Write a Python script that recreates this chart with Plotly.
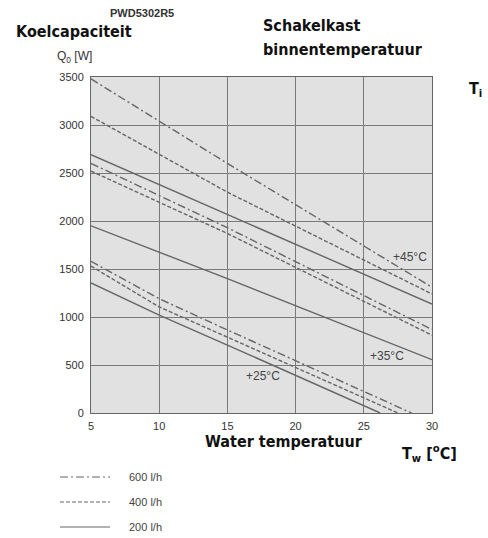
import plotly.graph_objects as go

# Water temperature (x) and cooling capacity (W) per cabinet temperature / flow rate
x_45 = [5, 15, 30]
q45_600 = [3480, 2600, 1310]
q45_400 = [3090, 2300, 1240]
q45_200 = [2690, 2070, 1135]

x_35 = [5, 15, 30]
q35_600 = [2600, 1930, 870]
q35_400 = [2520, 1870, 810]
q35_200 = [1950, 1400, 555]

x25_600 = [5, 10, 15, 28.5]
q25_600 = [1580, 1190, 865, 0]
x25_400 = [5, 10, 15, 27.5]
q25_400 = [1530, 1105, 790, 0]
x25_200 = [5, 10, 15, 26.2]
q25_200 = [1355, 1020, 708, 0]

flow_labels = ["600 l/h", "400 l/h", "200 l/h"]
temp_labels = ["+45°C", "+35°C", "+25°C"]
temp_label_pos = [(28.4, 1625), (26.7, 594), (17.6, 385)]

x_ticks = [5, 10, 15, 20, 25, 30]
y_ticks = [0, 500, 1000, 1500, 2000, 2500, 3000, 3500]

LINE = "#666666"
dash_styles = {"600 l/h": "8px,3px,2px,3px", "400 l/h": "4px,2px", "200 l/h": "solid"}

# body margin removed via post_script, so window pixels == figure pixels
PL, PR, PT, PB = 91, 432, 77, 413   # plot area in window pixels
W, H = 488, 538


def px2paper(px, py):
    return (px - PL) / (PR - PL), (PB - py) / (PB - PT)


fig = go.Figure()
series = [
    (x_45, q45_600, "600 l/h"), (x_45, q45_400, "400 l/h"), (x_45, q45_200, "200 l/h"),
    (x_35, q35_600, "600 l/h"), (x_35, q35_400, "400 l/h"), (x_35, q35_200, "200 l/h"),
    (x25_600, q25_600, "600 l/h"), (x25_400, q25_400, "400 l/h"), (x25_200, q25_200, "200 l/h"),
]
for xs, ys, fl in series:
    fig.add_trace(go.Scatter(x=xs, y=ys, mode="lines", showlegend=False,
                             line=dict(color=LINE, width=1.4, dash=dash_styles[fl])))

for lab, (lx, ly) in zip(temp_labels, temp_label_pos):
    fig.add_annotation(x=lx, y=ly, text=lab, showarrow=False,
                       font=dict(family="Liberation Sans, Arial", size=12, color="#444"))

# Legend drawn manually
leg_y = [477, 502, 527]
for fl, py in zip(flow_labels, leg_y):
    x0, yp = px2paper(60, py)
    x1, _ = px2paper(110, py)
    xt, _ = px2paper(127, py)
    fig.add_shape(type="line", xref="paper", yref="paper",
                  x0=x0, x1=x1, y0=yp, y1=yp,
                  line=dict(color=LINE, width=1.2, dash=dash_styles[fl]))
    fig.add_annotation(xref="paper", yref="paper", x=xt, y=yp,
                       xanchor="left", yanchor="middle", text=fl, showarrow=False,
                       font=dict(family="Liberation Sans, Arial", size=11, color="#444"))

BOLD = "Liberation Sans Narrow, DejaVu Sans Condensed, Arial Narrow, sans-serif"


def ann(px, py, text, size, family, color="#111", bold=False):
    t = f"<b>{text}</b>" if bold else text
    xp, yp = px2paper(px, py)
    fig.add_annotation(xref="paper", yref="paper", x=xp, y=yp,
                       xanchor="left", yanchor="middle", text=t, showarrow=False,
                       font=dict(family=family, size=size, color=color))


ann(108, 13, "PWD5302R5", 11, "Liberation Sans, Arial", color="#333", bold=True)
ann(14, 31, "Koelcapaciteit", 16, BOLD, bold=True)
ann(55, 57, "Q<sub>0</sub> [W]", 12, "Liberation Sans, Arial", color="#333")
ann(261, 25, "Schakelkast", 16, BOLD, bold=True)
ann(261, 49, "binnentemperatuur", 16, BOLD, bold=True)
ann(467, 90, "T<sub>i</sub>", 16, BOLD, bold=True)
ann(203, 441, "Water temperatuur", 16, BOLD, bold=True)
ann(400, 453, "T<sub>w</sub> [<sup>o</sup>C]", 16, BOLD, bold=True)

fig.update_layout(
    width=W, height=H,
    margin=dict(l=PL, r=W - PR, t=PT, b=H - PB, autoexpand=False),
    paper_bgcolor="white", plot_bgcolor="#e1e1e1",
    showlegend=False,
    xaxis=dict(range=[5, 30], tickvals=x_ticks, showgrid=True, gridcolor="#7a7a7a", gridwidth=1,
               showline=True, linecolor="#666", mirror=True, zeroline=False, ticks="",
               ticklabelstandoff=3,
               tickfont=dict(family="Liberation Sans, Arial", size=11, color="#333")),
    yaxis=dict(range=[0, 3500], tickvals=y_ticks, showgrid=True, gridcolor="#7a7a7a", gridwidth=1,
               showline=True, linecolor="#666", mirror=True, zeroline=False, ticks="",
               ticklabelstandoff=4,
               tickfont=dict(family="Liberation Sans, Arial", size=11, color="#333")),
)

fig.write_html("out.html",
               config={"displayModeBar": False},
               post_script="document.body.style.margin='0';document.body.style.overflow='hidden';")
